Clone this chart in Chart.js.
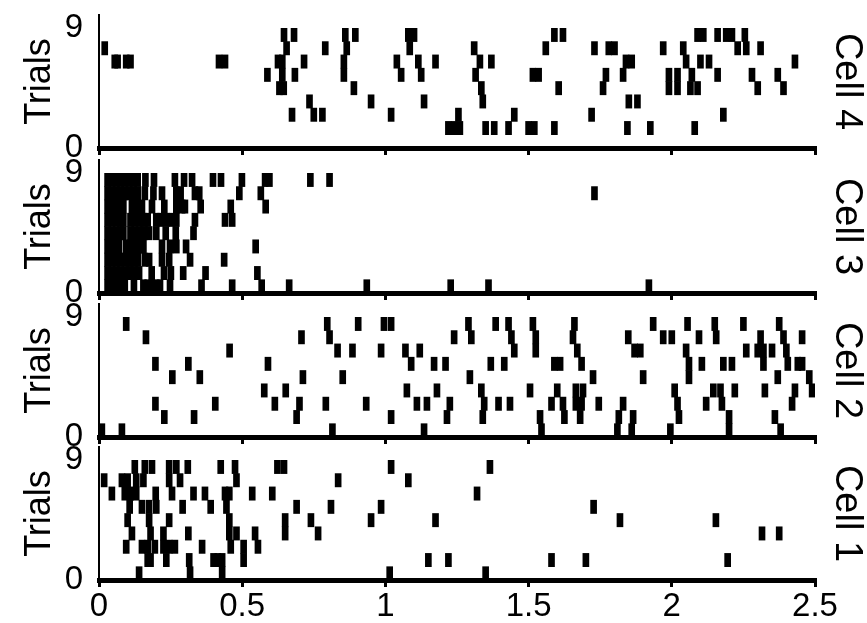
<!DOCTYPE html>
<html>
<head>
<meta charset="utf-8">
<script src="https://cdn.jsdelivr.net/npm/chart.js@4"></script>
<style>
body { margin:0; background:#fff; }
#wrap { position:relative; width:867px; height:623px; overflow:hidden; background:#fff; }
canvas { position:absolute; left:0; }
</style>
</head>
<body>
<div id="wrap">
<canvas id="cell4" width="867" height="160" style="top:0px"></canvas>
<canvas id="cell3" width="867" height="160" style="top:145px"></canvas>
<canvas id="cell2" width="867" height="160" style="top:289px"></canvas>
<canvas id="cell1" width="867" height="191" style="top:432px"></canvas>
</div>
<script>
// spike times (s), one list per trial, trial 0 first
var cell4Spikes = [
    [],
    [1.22, 1.24, 1.26, 1.35, 1.38, 1.43, 1.50, 1.52, 1.59, 1.845, 1.925, 2.08],
    [0.674, 0.75, 0.78, 1.02, 1.255, 1.45, 1.72, 2.18],
    [0.735, 0.95, 1.135, 1.34, 1.85, 1.88],
    [0.63, 0.645, 0.89, 1.335, 1.605, 1.76, 1.99, 2.02, 2.065, 2.09, 2.30, 2.39],
    [0.588, 0.64, 0.684, 0.855, 1.055, 1.125, 1.315, 1.515, 1.535, 1.77, 1.83, 1.99, 2.02, 2.07, 2.16, 2.28, 2.37],
    [0.055, 0.065, 0.095, 0.11, 0.419, 0.44, 0.625, 0.64, 0.716, 0.855, 1.04, 1.115, 1.175, 1.33, 1.37, 1.84, 1.86, 2.05, 2.10, 2.13, 2.43],
    [0.02, 0.655, 0.79, 0.865, 1.085, 1.31, 1.56, 1.73, 1.78, 1.80, 1.97, 2.04, 2.23, 2.26, 2.31],
    [0.646, 0.681, 0.86, 0.895, 1.08, 1.10, 1.59, 1.62, 2.09, 2.11, 2.16, 2.19, 2.21, 2.255]
];
var cell3Spikes = [
    [0.03, 0.045, 0.06, 0.075, 0.09, 0.122, 0.155, 0.17, 0.185, 0.2, 0.213, 0.248, 0.358, 0.465, 0.568, 0.664, 0.935, 1.228, 1.36, 1.92],
    [0.03, 0.045, 0.06, 0.075, 0.095, 0.11, 0.125, 0.14, 0.184, 0.227, 0.251, 0.294, 0.372, 0.553],
    [0.03, 0.045, 0.06, 0.075, 0.09, 0.105, 0.12, 0.135, 0.16, 0.175, 0.22, 0.245, 0.318, 0.437],
    [0.03, 0.045, 0.06, 0.07, 0.095, 0.11, 0.125, 0.14, 0.155, 0.22, 0.248, 0.27, 0.304, 0.547],
    [0.03, 0.045, 0.06, 0.075, 0.085, 0.11, 0.125, 0.145, 0.16, 0.175, 0.2, 0.233, 0.268, 0.33],
    [0.03, 0.045, 0.06, 0.075, 0.085, 0.11, 0.125, 0.14, 0.155, 0.17, 0.2, 0.215, 0.235, 0.255, 0.27, 0.335, 0.44, 0.465],
    [0.03, 0.045, 0.06, 0.075, 0.085, 0.115, 0.13, 0.15, 0.185, 0.228, 0.27, 0.29, 0.30, 0.355, 0.46, 0.582],
    [0.03, 0.045, 0.06, 0.075, 0.09, 0.105, 0.12, 0.135, 0.16, 0.19, 0.22, 0.27, 0.285, 0.335, 0.35, 0.49, 0.565, 1.73],
    [0.03, 0.045, 0.06, 0.075, 0.09, 0.105, 0.12, 0.135, 0.162, 0.192, 0.265, 0.297, 0.325, 0.398, 0.426, 0.499, 0.58, 0.595, 0.738, 0.805]
];
var cell2Spikes = [
    [0.01, 0.08, 0.815, 1.135, 1.545, 1.81, 1.86, 1.995, 2.2, 2.38],
    [0.228, 0.332, 0.69, 1.02, 1.215, 1.34, 1.54, 1.625, 1.68, 1.815, 1.865, 2.025, 2.2, 2.36],
    [0.197, 0.406, 0.614, 0.70, 0.792, 0.933, 1.11, 1.145, 1.225, 1.345, 1.395, 1.435, 1.58, 1.62, 1.665, 1.685, 1.745, 1.83, 2.02, 2.12, 2.175, 2.42],
    [0.577, 0.652, 1.075, 1.18, 1.335, 1.505, 1.6, 1.665, 1.69, 2.01, 2.145, 2.17, 2.22, 2.325, 2.43, 2.49],
    [0.256, 0.352, 0.712, 0.851, 1.295, 1.725, 1.9, 2.06, 2.37, 2.48],
    [0.197, 0.312, 0.59, 1.09, 1.17, 1.21, 1.368, 1.415, 1.59, 1.61, 1.685, 2.06, 2.105, 2.18, 2.21, 2.32, 2.405, 2.44, 2.455],
    [0.456, 0.833, 0.885, 0.985, 1.07, 1.12, 1.45, 1.525, 1.67, 1.87, 1.89, 2.05, 2.26, 2.30, 2.32, 2.35, 2.40],
    [0.164, 0.707, 0.805, 1.24, 1.30, 1.44, 1.525, 1.655, 1.848, 1.97, 2.0, 2.095, 2.155, 2.31, 2.39, 2.455],
    [0.095, 0.797, 0.905, 0.995, 1.02, 1.29, 1.385, 1.43, 1.515, 1.66, 1.935, 2.055, 2.15, 2.25, 2.375]
];
var cell1Spikes = [
    [0.14, 0.318, 0.43, 1.015, 1.35],
    [0.17, 0.18, 0.235, 0.315, 0.40, 0.415, 0.43, 0.505, 1.15, 1.22, 1.58, 1.70, 2.195],
    [0.095, 0.15, 0.17, 0.195, 0.225, 0.245, 0.265, 0.36, 0.46, 0.505, 0.555],
    [0.115, 0.18, 0.225, 0.312, 0.455, 0.48, 0.545, 0.65, 0.765, 2.315, 2.375],
    [0.10, 0.175, 0.245, 0.455, 0.65, 0.74, 0.95, 1.175, 1.819, 2.154],
    [0.107, 0.15, 0.175, 0.2, 0.292, 0.39, 0.445, 0.69, 0.81, 0.985, 1.727],
    [0.045, 0.09, 0.11, 0.13, 0.198, 0.255, 0.33, 0.37, 0.44, 0.455, 0.535, 0.605, 1.32],
    [0.018, 0.08, 0.10, 0.13, 0.155, 0.245, 0.283, 0.48, 0.835, 1.08],
    [0.125, 0.16, 0.185, 0.245, 0.27, 0.31, 0.425, 0.475, 0.623, 0.646, 1.02, 1.365]
];

var xTicks = [0, 0.5, 1, 1.5, 2, 2.5];
var xTickLabels = ['0', '0.5', '1', '1.5', '2', '2.5'];
var yTicks = [0, 9];
var yTitle = 'Trials';

var fontName = "'Liberation Sans', Arial, sans-serif";

function makeRaster(canvasId, cellLabel, rows, showXLabels, xAxisHeight) {
    var points = [];
    for (var r = 0; r < rows.length; r++) {
        for (var i = 0; i < rows[r].length; i++) {
            points.push({x: rows[r][i], y: [r, r + 1]});
        }
    }
    return new Chart(document.getElementById(canvasId), {
        type: 'bar',
        data: {
            datasets: [{
                data: points,
                backgroundColor: '#000',
                borderWidth: 0,
                barThickness: 6,
                yAxisID: 'y'
            }]
        },
        options: {
            responsive: false,
            animation: false,
            devicePixelRatio: 1,
            layout: {padding: {top: 15, left: 0, right: 0, bottom: 0}},
            plugins: {legend: {display: false}, tooltip: {enabled: false}},
            scales: {
                x: {
                    type: 'linear',
                    min: 0,
                    max: 2.5,
                    offset: false,
                    z: 1,
                    afterBuildTicks: function(s) {
                        s.ticks = xTicks.map(function(v) { return {value: v}; });
                    },
                    ticks: {
                        display: showXLabels,
                        color: '#000',
                        padding: 3,
                        maxRotation: 0,
                        font: {family: fontName, size: 33, lineHeight: 1},
                        callback: function(v, idx) { return xTickLabels[idx]; }
                    },
                    grid: {
                        display: true,
                        offset: false,
                        drawOnChartArea: false,
                        drawTicks: true,
                        tickLength: 7,
                        lineWidth: 3,
                        color: '#000'
                    },
                    border: {display: true, width: 5, color: '#000'},
                    afterFit: function(s) {
                        s.height = xAxisHeight;
                        s.paddingLeft = 0;
                        s.paddingRight = 0;
                    }
                },
                y: {
                    type: 'linear',
                    position: 'left',
                    min: 0,
                    max: 10,
                    afterBuildTicks: function(s) {
                        s.ticks = yTicks.map(function(v) { return {value: v}; });
                    },
                    ticks: {
                        color: '#000',
                        padding: 8,
                        font: {family: fontName, size: 33, lineHeight: 1}
                    },
                    grid: {display: false},
                    border: {display: true, width: 2, color: '#000'},
                    title: {
                        display: true,
                        text: yTitle,
                        color: '#000',
                        font: {family: fontName, size: 36, lineHeight: 1},
                        padding: {top: 22, bottom: 0}
                    },
                    afterFit: function(s) {
                        s.width = 99;
                        s.paddingTop = 0;
                        s.paddingBottom = 0;
                    }
                },
                y2: {
                    type: 'linear',
                    position: 'right',
                    display: true,
                    ticks: {display: false},
                    grid: {display: false},
                    border: {display: false},
                    title: {
                        display: true,
                        text: cellLabel,
                        color: '#000',
                        font: {family: fontName, size: 38, lineHeight: 1},
                        padding: {top: 2, bottom: 0}
                    },
                    afterFit: function(s) {
                        s.width = 52;
                        s.paddingTop = 0;
                        s.paddingBottom = 0;
                    }
                }
            }
        }
    });
}

makeRaster('cell4', 'Cell 4', cell4Spikes, false, 12);
makeRaster('cell3', 'Cell 3', cell3Spikes, false, 12);
makeRaster('cell2', 'Cell 2', cell2Spikes, false, 12);
makeRaster('cell1', 'Cell 1', cell1Spikes, true, 43);
</script>
</body>
</html>
